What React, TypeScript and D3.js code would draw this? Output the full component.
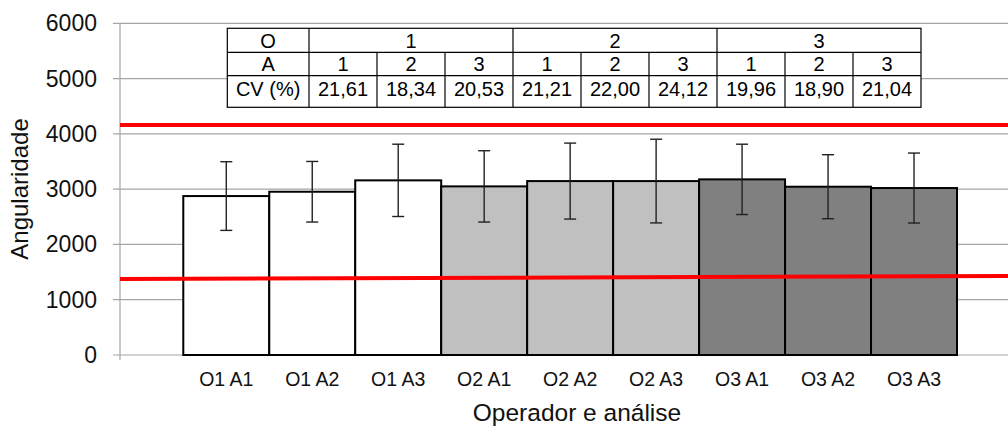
import React from 'react';
import * as d3 from 'd3';

// tamanho da figura
const width = 1008;
const height = 428;
const font = '"Liberation Sans", Arial, sans-serif';

// dados
const categories = ['O1 A1', 'O1 A2', 'O1 A3', 'O2 A1', 'O2 A2', 'O2 A3', 'O3 A1', 'O3 A2', 'O3 A3'];
const means = [2875, 2953, 3159, 3050, 3146, 3146, 3177, 3044, 3020];
const sds = [621, 548, 654, 645, 687, 757, 636, 579, 633];
const operators = ['1', '2', '3'];
const analyses = ['1', '2', '3', '1', '2', '3', '1', '2', '3'];
const cvValues = ['21,61', '18,34', '20,53', '21,21', '22,00', '24,12', '19,96', '18,90', '21,04'];
const yTicks = [0, 1000, 2000, 3000, 4000, 5000, 6000];
const upperLimit = [4160, 4160]; // linha vermelha superior (início, fim)
const lowerLimit = [1375, 1430]; // linha vermelha inferior (início, fim)

// cores por operador
const operatorFill: Record<string, string> = { '1': '#ffffff', '2': '#c0c0c0', '3': '#808080' };

export default function App() {
  // área do gráfico
  const plotLeft = 120;
  const plotRight = width;
  const y = d3.scaleLinear().domain([0, 6000]).range([355, 23.3]);
  const x = d3.scaleBand<string>().domain(categories).range([183.3, 957]).padding(0);

  // tabela
  const tLeft = 227.3;
  const tFirstCol = 309;
  const tRight = 921;
  const rows = [28.3, 52.3, 75.7, 107.3];
  const tx = d3.scaleBand<string>().domain(categories).range([tFirstCol, tRight]);
  const textY = [40.5, 64, 89];

  const redLine = (vals: number[]) =>
    d3.line<number>().x((_, i) => (i === 0 ? plotLeft : plotRight)).y(v => y(v))(vals) || '';

  return (
    <svg width={width} height={height} style={{ position: 'absolute', left: 0, top: 0, background: '#fff' }}
      fontFamily={font}>
      {/* grade */}
      {yTicks.map(t => (
        <line key={t} x1={113} x2={plotRight} y1={y(t)} y2={y(t)} stroke="#a6a6a6" strokeWidth={1.2} />
      ))}
      <line x1={plotLeft} x2={plotLeft} y1={y(6000)} y2={360} stroke="#a6a6a6" strokeWidth={1.2} />
      {yTicks.map(t => (
        <text key={'l' + t} x={97} y={y(t)} textAnchor="end" dominantBaseline="central" fontSize={23} fill="#111">
          {t}
        </text>
      ))}

      {/* barras */}
      {categories.map((c, i) => (
        <rect key={c} x={x(c)} y={y(means[i])} width={x.bandwidth()} height={y(0) - y(means[i])}
          fill={operatorFill[c[1]]} stroke="#000" strokeWidth={2} />
      ))}

      {/* barras de erro */}
      {categories.map((c, i) => {
        const cx = (x(c) || 0) + x.bandwidth() / 2;
        const hi = y(means[i] + sds[i]);
        const lo = y(means[i] - sds[i]);
        return (
          <g key={'e' + c} stroke="#222" strokeWidth={1.4}>
            <line x1={cx} x2={cx} y1={hi} y2={lo} />
            <line x1={cx - 6} x2={cx + 6} y1={hi} y2={hi} />
            <line x1={cx - 6} x2={cx + 6} y1={lo} y2={lo} />
          </g>
        );
      })}

      {/* limites */}
      <path d={redLine(upperLimit)} stroke="#ff0000" strokeWidth={4} fill="none" />
      <path d={redLine(lowerLimit)} stroke="#ff0000" strokeWidth={4} fill="none" />

      {/* rótulos do eixo x */}
      {categories.map(c => (
        <text key={'x' + c} x={(x(c) || 0) + x.bandwidth() / 2} y={385.5} textAnchor="middle" fontSize={19.5} fill="#111">
          {c}
        </text>
      ))}
      <text x={577} y={421} textAnchor="middle" fontSize={24.5} fill="#111">Operador e análise</text>
      <text transform="translate(28,189) rotate(-90)" textAnchor="middle" fontSize={24} fill="#111">Angularidade</text>

      {/* tabela de CV */}
      <g>
        <rect x={tLeft} y={rows[0]} width={tRight - tLeft} height={rows[3] - rows[0]} fill="#fff" stroke="#000" strokeWidth={1.2} />
        {rows.slice(1, 3).map(r => (
          <line key={'r' + r} x1={tLeft} x2={tRight} y1={r} y2={r} stroke="#000" strokeWidth={1.2} />
        ))}
        {categories.map((c, i) => {
          const xx = tx(c) || 0;
          const top = i % 3 === 0 ? rows[0] : rows[1];
          return <line key={'c' + c} x1={xx} x2={xx} y1={top} y2={rows[3]} stroke="#000" strokeWidth={1.2} />;
        })}
        <text x={(tLeft + tFirstCol) / 2} y={textY[0]} textAnchor="middle" dominantBaseline="central" fontSize={20}>O</text>
        <text x={(tLeft + tFirstCol) / 2} y={textY[1]} textAnchor="middle" dominantBaseline="central" fontSize={20}>A</text>
        <text x={(tLeft + tFirstCol) / 2} y={textY[2]} textAnchor="middle" dominantBaseline="central" fontSize={20}>CV (%)</text>
        {operators.map((o, k) => {
          const x0 = tx(categories[k * 3]) || 0;
          const x1 = (tx(categories[k * 3 + 2]) || 0) + tx.bandwidth();
          return (
            <text key={'o' + o} x={(x0 + x1) / 2} y={textY[0]} textAnchor="middle" dominantBaseline="central" fontSize={20}>
              {o}
            </text>
          );
        })}
        {categories.map((c, i) => {
          const cx = (tx(c) || 0) + tx.bandwidth() / 2;
          return (
            <g key={'t' + c}>
              <text x={cx} y={textY[1]} textAnchor="middle" dominantBaseline="central" fontSize={20}>{analyses[i]}</text>
              <text x={cx} y={textY[2]} textAnchor="middle" dominantBaseline="central" fontSize={20}>{cvValues[i]}</text>
            </g>
          );
        })}
      </g>
    </svg>
  );
}
